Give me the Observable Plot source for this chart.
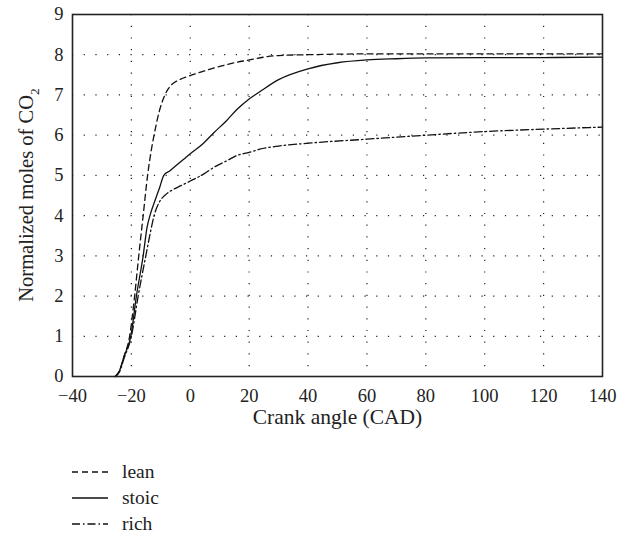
<!DOCTYPE html>
<html>
<head>
<meta charset="utf-8">
<script src="https://cdn.jsdelivr.net/npm/d3@7"></script>
<script src="https://cdn.jsdelivr.net/npm/@observablehq/plot@0.6"></script>
<style>
  body { margin: 0; background: #fff; font-family: "Liberation Serif", "DejaVu Serif", serif; color: #222; }
  svg, svg text { font-family: "Liberation Serif", "DejaVu Serif", serif !important; }
  #legend { padding-top: 14px; }
  .row { display: flex; align-items: center; height: 26px; font-size: 19.5px; }
  .row svg { margin-left: 72px; margin-right: 14px; }
</style>
</head>
<body>
<div id="chart"></div>
<div id="legend"></div>
<script>
const seriesNames = ["lean", "stoic", "rich"];
const leanX = [-25.5, -24, -22.5, -20.6, -18.9, -17.5, -16.0, -14.5, -13.3, -12.3, -10.5, -8.6, -7.5, -6.4, -3.6, 0, 5, 10, 15, 20, 25, 30, 40, 60, 80, 100, 120, 140];
const leanY = [0, 0.15, 0.5, 1, 2, 3, 4, 5, 5.6, 6, 6.6, 7, 7.15, 7.25, 7.38, 7.48, 7.6, 7.71, 7.8, 7.87, 7.94, 7.98, 8.0, 8.02, 8.02, 8.02, 8.02, 8.02];
const stoicX = [-25.5, -24, -22.5, -20.2, -18.3, -16.0, -14.7, -13.5, -12.1, -10.4, -9.0, -7, -3.6, 0, 4.5, 8, 12.3, 16, 20, 23.6, 30, 40, 50, 60, 70, 80, 100, 120, 140];
const stoicY = [0, 0.15, 0.5, 1, 2, 3, 3.7, 4.05, 4.35, 4.7, 5.0, 5.11, 5.32, 5.54, 5.8, 6.06, 6.36, 6.65, 6.9, 7.08, 7.38, 7.65, 7.8, 7.87, 7.9, 7.92, 7.93, 7.93, 7.94];
const richX = [-25.5, -24, -22.5, -20, -17.7, -15.1, -13.5, -12.3, -10.4, -8.7, -7, -5.8, -3, 0, 4.5, 8, 12.3, 16, 20, 23.6, 30, 40, 60, 80, 100, 120, 140];
const richY = [0, 0.12, 0.45, 1, 2, 3, 3.6, 4, 4.35, 4.5, 4.6, 4.65, 4.75, 4.86, 5.03, 5.2, 5.36, 5.5, 5.57, 5.65, 5.73, 5.8, 5.9, 6.0, 6.09, 6.15, 6.2];
const xTicks = [-40, -20, 0, 20, 40, 60, 80, 100, 120, 140];
const yTicks = [0, 1, 2, 3, 4, 5, 6, 7, 8, 9];
const xTitle = "Crank angle (CAD)";
const yTitle = "Normalized moles of CO";
const yTitleSub = "2";

const toRows = (xs, ys) => xs.map((x, i) => ({x, y: ys[i]}));
const lean = toRows(leanX, leanY);
const stoic = toRows(stoicX, stoicY);
const rich = toRows(richX, richY);
const dashes = {lean: "6,4", stoic: null, rich: "8,3,1.5,3"};

const W = 620, H = 445;
const FONT = "Liberation Serif, DejaVu Serif, serif";
const plot = Plot.plot({
  width: W, height: H,
  marginLeft: 72, marginRight: 18, marginTop: 14, marginBottom: 69,
  style: {fontFamily: FONT, fontSize: "18.5px", color: "#222", background: "#fff"},
  x: {domain: [-40, 140], ticks: xTicks, label: null},
  y: {domain: [0, 9], ticks: yTicks, label: null},
  marks: [
    Plot.gridX(xTicks.filter(d => d > -40 && d < 140), {stroke: "#222", strokeOpacity: 1, strokeWidth: 1.2, strokeDasharray: "1.2,10.5"}),
    Plot.gridY(yTicks.filter(d => d > 0 && d < 9), {stroke: "#222", strokeOpacity: 1, strokeWidth: 1.2, strokeDasharray: "1.2,10.5"}),
    Plot.line(lean, {x: "x", y: "y", curve: "monotone-x", stroke: "#111", strokeWidth: 1.3, strokeDasharray: dashes.lean}),
    Plot.line(stoic, {x: "x", y: "y", curve: "monotone-x", stroke: "#111", strokeWidth: 1.3}),
    Plot.line(rich, {x: "x", y: "y", curve: "monotone-x", stroke: "#111", strokeWidth: 1.3, strokeDasharray: dashes.rich}),
    Plot.axisX({ticks: xTicks, tickSize: 0, tickPadding: 12, label: null}),
    Plot.axisY({ticks: yTicks, tickSize: 0, tickPadding: 9, label: null}),
    Plot.frame({stroke: "#222", strokeWidth: 1.6}),
    Plot.text([xTitle], {frameAnchor: "bottom", dy: 41, text: d => d, lineAnchor: "middle", fontSize: 21.5, fontFamily: FONT, fill: "#222"})
  ]
});
document.getElementById("chart").appendChild(plot);

// rotated y title with subscript
const svg = d3.select(plot);
const t = svg.append("text")
  .attr("transform", `translate(28,${(14 + 376) / 2}) rotate(-90)`)
  .attr("text-anchor", "middle")
  .attr("dominant-baseline", "middle")
  .attr("fill", "#222")
  .style("font-size", "20.5px");
t.append("tspan").text(yTitle);
t.append("tspan").attr("baseline-shift", "sub").style("font-size", "13.5px").text(yTitleSub);

// legend
const legend = d3.select("#legend");
seriesNames.forEach(name => {
  const row = legend.append("div").attr("class", "row");
  const s = row.append("svg").attr("width", 36).attr("height", 26);
  s.append("line").attr("x1", 0).attr("x2", 36).attr("y1", 13).attr("y2", 13)
    .attr("stroke", "#111").attr("stroke-width", 1.3)
    .attr("stroke-dasharray", dashes[name]);
  row.append("span").text(name);
});
</script>
</body>
</html>
